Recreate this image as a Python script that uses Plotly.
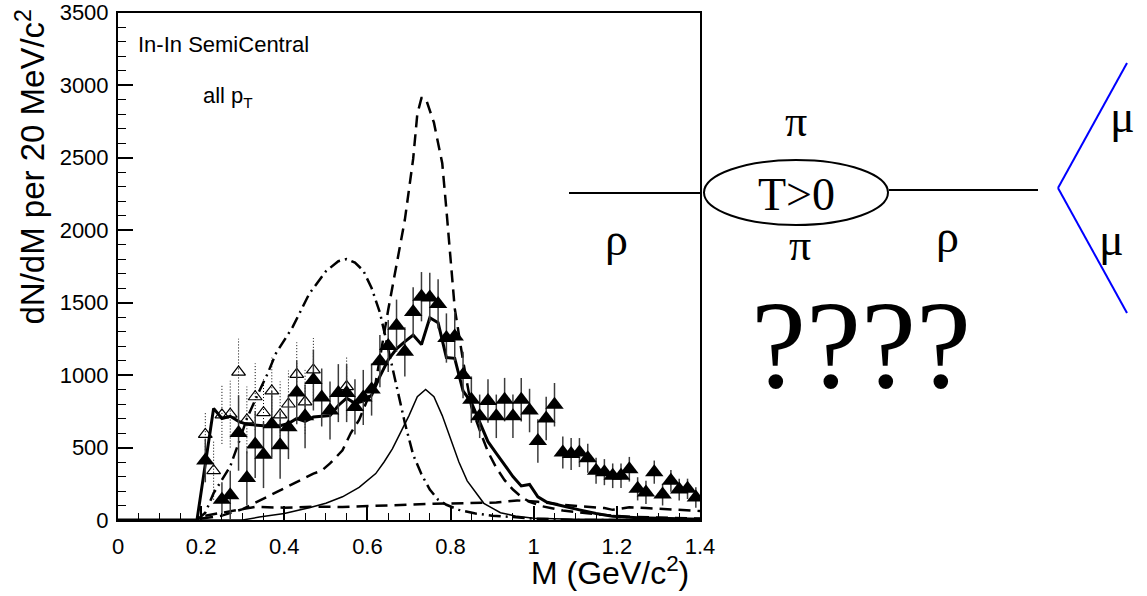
import plotly.graph_objects as go

W, H = 1147, 596

# ---------------- data ----------------
data_m = [0.21, 0.25, 0.27, 0.29, 0.31, 0.33, 0.35, 0.37, 0.39, 0.41, 0.43, 0.45, 0.47, 0.49,
          0.51, 0.53, 0.55, 0.57, 0.59, 0.61, 0.63, 0.65, 0.67, 0.69, 0.71, 0.73, 0.75, 0.77,
          0.79, 0.81, 0.83, 0.85, 0.87, 0.89, 0.91, 0.93, 0.95, 0.97, 0.99, 1.01, 1.03, 1.05,
          1.07, 1.09, 1.11, 1.13, 1.15, 1.17, 1.19, 1.21, 1.23, 1.25, 1.27, 1.29, 1.31, 1.33,
          1.35, 1.37, 1.39]
data_v = [410, 140, 170, 600, 290, 520, 450, 660, 515, 640, 880, 715, 965, 845,
          755, 875, 875, 780, 845, 900, 1095, 1200, 1340, 1160, 1435, 1540, 1535, 1490,
          1255, 1265, 1000, 830, 715, 820, 715, 830, 715, 830, 755, 545, 700, 795,
          465, 455, 465, 425, 340, 330, 305, 305, 350, 215, 190, 330, 175, 270,
          210, 215, 155]
data_e = [150, 120, 170, 260, 190, 230, 230, 230, 230, 220, 220, 220, 210, 200,
          200, 200, 200, 190, 190, 180, 180, 180, 180, 170, 170, 170, 170, 170,
          170, 170, 160, 160, 150, 150, 150, 150, 150, 150, 150, 150, 150, 150,
          110, 110, 100, 100, 90, 90, 85, 85, 85, 80, 80, 80, 75, 75,
          75, 70, 70]

open_m = [0.21, 0.23, 0.25, 0.27, 0.29, 0.31, 0.33, 0.35, 0.37, 0.39, 0.41, 0.43, 0.45, 0.47, 0.55]
open_v = [590, 340, 725, 730, 1020, 690, 850, 740, 890, 725, 800, 1005, 815, 1035, 920]
open_e = [150, 200, 200, 230, 230, 230, 230, 230, 230, 230, 230, 220, 220, 220, 200]

total_m = [0, 0.19, 0.23, 0.25, 0.27, 0.29, 0.31, 0.35, 0.39, 0.41, 0.43, 0.45, 0.47, 0.49,
           0.51, 0.53, 0.55, 0.57, 0.59, 0.61, 0.63, 0.65, 0.67, 0.69, 0.71, 0.73, 0.75, 0.77,
           0.79, 0.81, 0.83, 0.85, 0.87, 0.89, 0.91, 0.93, 0.95, 0.97, 0.99, 1.01, 1.03, 1.05,
           1.07, 1.09, 1.11, 1.15, 1.19, 1.25, 1.30, 1.40]
total_v = [0, 0, 770, 700, 715, 680, 660, 650, 650, 665, 700, 680, 710, 715,
           720, 790, 840, 805, 820, 860, 990, 1105, 1180, 1230, 1275, 1210, 1395, 1360,
           1120, 1115, 890, 810, 680, 540, 460, 380, 300, 235, 245, 160, 125, 110,
           95, 80, 70, 45, 25, 15, 10, 5]

vac_m = [0.20, 0.25, 0.30, 0.36, 0.40, 0.45, 0.47, 0.49, 0.51, 0.54, 0.56, 0.58, 0.60, 0.62,
         0.63, 0.65, 0.67, 0.69, 0.71, 0.72, 0.73, 0.74, 0.76, 0.78, 0.79, 0.80, 0.81, 0.83,
         0.84, 0.85, 0.87, 0.89, 0.91, 0.93, 0.95, 0.97, 0.99, 1.02, 1.07, 1.15, 1.23, 1.40]
vac_v = [10, 30, 75, 160, 220, 290, 320, 340, 390, 480, 600, 690, 830, 950,
         1120, 1450, 1760, 2070, 2490, 2800, 2910, 2910, 2740, 2460, 2140, 1800, 1460, 1100,
         930, 780, 620, 470, 360, 275, 210, 160, 125, 95, 65, 40, 22, 10]

broad_m = [0.19, 0.21, 0.23, 0.25, 0.27, 0.29, 0.31, 0.34, 0.36, 0.38, 0.42, 0.46, 0.50, 0.53,
           0.55, 0.57, 0.59, 0.61, 0.63, 0.65, 0.67, 0.69, 0.71, 0.73, 0.75, 0.77, 0.79, 0.82,
           0.86, 0.90, 0.95, 1.00, 1.10, 1.40]
broad_v = [0, 50, 185, 275, 370, 530, 700, 890, 1010, 1150, 1330, 1560, 1715, 1785,
           1800, 1775, 1720, 1600, 1430, 1180, 920, 670, 450, 315, 210, 140, 105, 70,
           45, 30, 20, 10, 0, 0]

had_m = [0.0, 0.30, 0.34, 0.40, 0.46, 0.50, 0.54, 0.58, 0.62, 0.64, 0.66, 0.68, 0.70, 0.72,
         0.74, 0.76, 0.78, 0.80, 0.82, 0.84, 0.86, 0.88, 0.92, 0.96, 1.00, 1.10, 1.40]
had_v = [0, 0, 20, 45, 85, 115, 160, 225, 320, 400, 490, 600, 720, 850,
         900, 850, 720, 560, 400, 270, 190, 115, 50, 25, 12, 5, 2]

low_m = [0.21, 0.26, 0.33, 0.40, 0.47, 0.54, 0.62, 0.70, 0.76, 0.84, 0.91, 0.96, 1.01, 1.07,
         1.13, 1.17, 1.19, 1.23, 1.27, 1.31, 1.37, 1.40]
low_v = [30, 57, 90, 85, 92, 90, 95, 105, 112, 118, 120, 135, 126, 105,
         90, 82, 70, 88, 82, 75, 65, 62]

x_ticks = [0, 0.2, 0.4, 0.6, 0.8, 1.0, 1.2, 1.4]
x_ticktext = ["0", "0.2", "0.4", "0.6", "0.8", "1", "1.2", "1.4"]
y_ticks = [0, 500, 1000, 1500, 2000, 2500, 3000, 3500]
y_ticktext = ["0", "500", "1000", "1500", "2000", "2500", "3000", "3500"]


def px(x):
    return x / W


def py(y):
    return 1 - y / H


fig = go.Figure()

fig.add_trace(go.Scatter(x=low_m, y=low_v, mode="lines",
                         line=dict(color="black", width=2.5, dash="12px,7px")))
fig.add_trace(go.Scatter(x=had_m, y=had_v, mode="lines",
                         line=dict(color="black", width=1.5)))
fig.add_trace(go.Scatter(x=broad_m, y=broad_v, mode="lines",
                         line=dict(color="black", width=2.5, dash="12px,5px,2px,5px")))
fig.add_trace(go.Scatter(x=vac_m, y=vac_v, mode="lines",
                         line=dict(color="black", width=2.5, dash="12px,7px")))
fig.add_trace(go.Scatter(x=total_m, y=total_v, mode="lines",
                         line=dict(color="black", width=3)))

# dotted error bars for open triangles
ex, ey = [], []
for m, v, e in zip(open_m, open_v, open_e):
    ex += [m, m, None]
    ey += [v - e, v + e, None]
fig.add_trace(go.Scatter(x=ex, y=ey, mode="lines",
                         line=dict(color="black", width=1, dash="1px,2px")))
fig.add_trace(go.Scatter(x=open_m, y=open_v, mode="markers",
                         marker=dict(symbol="triangle-up-open", size=12,
                                     color="black", line=dict(width=1.2, color="black"))))
fig.add_trace(go.Scatter(x=data_m, y=data_v, mode="markers",
                         error_y=dict(type="data", array=data_e, color="#3c3c3c",
                                      thickness=1.5, width=0),
                         marker=dict(symbol="triangle-up", size=16, color="black")))

axis_font = dict(family="Liberation Sans, Arial", size=22, color="black")

fig.update_layout(
    template="none",
    width=W, height=H, autosize=False,
    margin=dict(l=0, r=0, t=0, b=0, pad=0),
    paper_bgcolor="white", plot_bgcolor="white",
    showlegend=False,
    xaxis=dict(domain=[px(118), px(700)], range=[0, 1.4], automargin=False,
               tickvals=x_ticks, ticktext=x_ticktext,
               ticks="inside", ticklen=14, tickwidth=1.5, tickcolor="black",
               minor=dict(dtick=0.05, ticks="inside", ticklen=7, tickwidth=1.2,
                          tickcolor="black", showgrid=False),
               showline=True, linecolor="black", linewidth=2, mirror=True,
               showgrid=False, zeroline=False, tickfont=axis_font,
               ticklabelstandoff=6),
    yaxis=dict(domain=[py(520), py(12.5)], range=[0, 3500], automargin=False,
               tickvals=y_ticks, ticktext=y_ticktext,
               ticks="inside", ticklen=15, tickwidth=1.5, tickcolor="black",
               minor=dict(dtick=100, ticks="inside", ticklen=8, tickwidth=1.2,
                          tickcolor="black", showgrid=False),
               showline=True, linecolor="black", linewidth=2, mirror=True,
               showgrid=False, zeroline=False, tickfont=axis_font,
               ticklabelstandoff=3),
)

sans = "Liberation Sans, Arial"
serif = "Liberation Serif, Times New Roman"
ann = []
ann.append(dict(text="dN/dM per 20 MeV/c<sup>2</sup>", x=px(30), y=py(8),
                xref="paper", yref="paper", xanchor="center", yanchor="top",
                textangle=-90, showarrow=False, font=dict(family=sans, size=33, color="black")))
ann.append(dict(text="M (GeV/c<sup>2</sup>)", x=px(691), y=py(571),
                xref="paper", yref="paper", xanchor="right", yanchor="middle",
                showarrow=False, font=dict(family=sans, size=32, color="black")))
ann.append(dict(text="In-In SemiCentral", x=px(136), y=py(44),
                xref="paper", yref="paper", xanchor="left", yanchor="middle",
                showarrow=False, font=dict(family=sans, size=22, color="black")))
ann.append(dict(text="all p<sub>T</sub>", x=px(201), y=py(97),
                xref="paper", yref="paper", xanchor="left", yanchor="middle",
                showarrow=False, font=dict(family=sans, size=22, color="black")))

for txt, x, y, s in [("π", 796, 122, 44), ("π", 800, 245, 44),
                     ("ρ", 616, 240, 46), ("ρ", 947, 236, 46),
                     ("μ", 1122, 117, 46), ("μ", 1111, 240, 46),
                     ("T>0", 796, 194, 46), ("????", 861, 345, 124)]:
    ann.append(dict(text=txt, x=px(x), y=py(y), xref="paper", yref="paper",
                    xanchor="center", yanchor="middle", showarrow=False,
                    font=dict(family=serif, size=s, color="black")))
fig.update_layout(annotations=ann)

shapes = [
    dict(type="line", x0=px(569), x1=px(700), y0=py(193), y1=py(193),
         line=dict(color="black", width=2)),
    dict(type="circle", x0=px(704), x1=px(888), y0=py(160), y1=py(225),
         line=dict(color="black", width=2)),
    dict(type="line", x0=px(889), x1=px(1038), y0=py(190), y1=py(190),
         line=dict(color="black", width=2)),
    dict(type="line", x0=px(1127), x1=px(1058), y0=py(63), y1=py(188),
         line=dict(color="blue", width=2)),
    dict(type="line", x0=px(1058), x1=px(1127), y0=py(188), y1=py(313),
         line=dict(color="blue", width=2)),
]
for s in shapes:
    s.update(xref="paper", yref="paper")
fig.update_layout(shapes=shapes)

fig.write_html("out.html")
